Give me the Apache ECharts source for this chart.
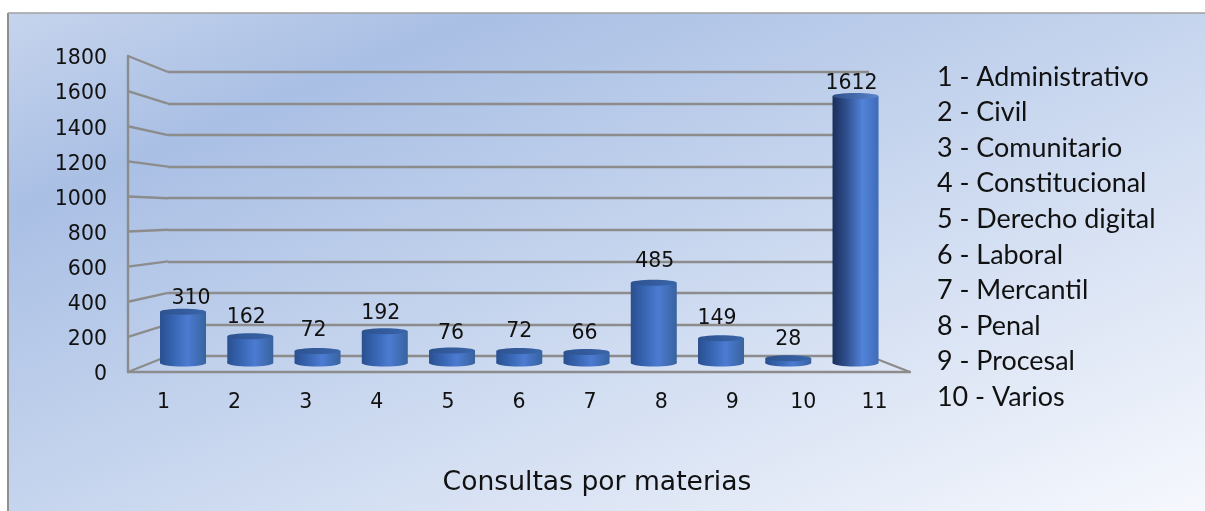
<!DOCTYPE html>
<html><head><meta charset="utf-8">
<style>html,body{margin:0;padding:0;background:#fff}#c{width:1205px;height:511px}</style>
<script src="https://cdn.jsdelivr.net/npm/echarts@6/dist/echarts.min.js"></script>
</head><body><div id="c"></div>
<script>
const categories = ['1','2','3','4','5','6','7','8','9','10','11'];
const values = [310,162,72,192,76,72,66,485,149,28,1612];
const legendItems = ['1 - Administrativo','2 - Civil','3 - Comunitario','4 - Constitucional','5 - Derecho digital','6 - Laboral','7 - Mercantil','8 - Penal','9 - Procesal','10 - Varios'];
const chartTitle = 'Consultas por materias';
const yMax = 1800, yStep = 200;
const tickValues = [0,200,400,600,800,1000,1200,1400,1600,1800];

const WALL = '#8c8c8c';
const WALL_W = 2.4;
const labelFont = '20.5px "DejaVu Sans"';
const sideFont = 'Lato';
// hand placement of the data labels relative to each cylinder's top centre
const labelDx = [8,-4,-4,-4,-1,0,-2,1,-4,0,-4];
const labelDy = [-13,-19,-20,-18,-17,-19,-18,-21,-20,-19,-12];
const chart = echarts.init(document.getElementById('c'), null, {renderer:'canvas'});

const grad = (stops)=>new echarts.graphic.LinearGradient(0,0,1,0,stops);
const bodyFill = grad([{offset:0,color:'#2a4f90'},{offset:0.25,color:'#3562ad'},{offset:0.6,color:'#4c7bd2'},{offset:1,color:'#38639f'}]);
const tallFill = grad([{offset:0,color:'#1b2f5a'},{offset:0.3,color:'#2e4f8e'},{offset:0.65,color:'#5283d8'},{offset:1,color:'#3f6cb8'}]);
const topFill = grad([{offset:0,color:'#2d528f'},{offset:1,color:'#3a65aa'}]);
const tallTop = grad([{offset:0,color:'#2f4f8a'},{offset:1,color:'#5a85cf'}]);

function renderCylinder(params, api){
  const i = api.value(0), v = api.value(1);
  const top = api.coord([i,v]), base = api.coord([i,0]);
  const w = api.size([1,0])[0]*0.684, rx = w/2, ry = 3;
  const x = top[0]-rx;
  const tall = i===values.length-1;
  const fill = tall ? tallFill : bodyFill;
  return {type:'group',children:[
    {type:'ellipse',shape:{cx:top[0],cy:base[1],rx,ry:3.5},style:{fill}},
    {type:'rect',shape:{x,y:top[1],width:w,height:base[1]-top[1]},style:{fill}},
    {type:'ellipse',shape:{cx:top[0],cy:top[1],rx,ry},style:{fill:tall?tallTop:topFill}},
    {type:'text',style:{x:top[0]+labelDx[i],y:top[1]+labelDy[i],text:String(v),font:labelFont,fill:'#111',align:'center',verticalAlign:'middle'}}
  ]};
}

chart.setOption({
  animation:false,
  backgroundColor:'#fff',
  graphic:[],
  grid:[
    {left:128,top:56,width:782,height:316},
    {left:168,top:72,width:701,height:284},
    {left:149.4,top:65,width:739.75,height:298},
    {left:128,top:59,width:782,height:316}
  ],
  xAxis:[
    {gridIndex:0,type:'category',data:categories,z:3,
     axisLine:{show:true,onZero:false,lineStyle:{color:WALL,width:WALL_W}},axisTick:{show:false},
     axisLabel:{fontFamily:'DejaVu Sans',fontSize:20.5,color:'#111',margin:20}},
    {gridIndex:1,type:'category',data:categories,show:false},
    {gridIndex:2,type:'category',data:categories,show:false},
    {gridIndex:3,type:'category',data:categories,show:false}
  ],
  yAxis:[
    {gridIndex:0,type:'value',min:0,max:yMax,interval:yStep,
     axisLine:{show:true,lineStyle:{color:WALL,width:WALL_W}},axisTick:{show:false},splitLine:{show:false},
     axisLabel:{show:false}},
    {gridIndex:1,type:'value',min:0,max:yMax,interval:yStep,
     axisLine:{show:false},axisTick:{show:false},axisLabel:{show:false},
     splitLine:{show:true,lineStyle:{color:WALL,width:WALL_W}}},
    {gridIndex:2,type:'value',min:0,max:yMax,show:false,splitLine:{show:false}},
    {gridIndex:3,type:'value',min:0,max:yMax,interval:yStep,
     axisLine:{show:false},axisTick:{show:false},splitLine:{show:false},
     axisLabel:{fontFamily:'DejaVu Sans',fontSize:20.5,color:'#111',margin:21,formatter:v=>String(v)}}
  ],
  series:[{
    type:'custom',xAxisIndex:2,yAxisIndex:2,z:5,clip:false,
    encode:{x:0,y:1},
    data:values.map((v,i)=>[i,v]),
    renderItem:renderCylinder
  }]
});

const bgFill = new echarts.graphic.LinearGradient(8,13,361,862,[
  {offset:0,color:'#c6d4ed'},{offset:0.2,color:'#a9bfe4'},{offset:0.5,color:'#c6d5ee'},{offset:1,color:'#f6f8fd'}],true);
const gfx = [
  {type:'rect',z:-10,silent:true,shape:{x:8,y:13,width:1197,height:498},style:{fill:bgFill}},
  {type:'line',z:-9,silent:true,shape:{x1:8,y1:13,x2:8,y2:511},style:{stroke:'#909090',lineWidth:2}},
  {type:'line',z:-9,silent:true,shape:{x1:8,y1:13,x2:1205,y2:13},style:{stroke:'#a0a0a0',lineWidth:1.5}}
];
tickValues.forEach(v=>{
  const f = chart.convertToPixel({xAxisIndex:0,yAxisIndex:0},[0,v]);
  const b = chart.convertToPixel({xAxisIndex:1,yAxisIndex:1},[0,v]);
  gfx.push({type:'line',z:-1,silent:true,shape:{x1:128,y1:f[1],x2:168,y2:b[1]},style:{stroke:WALL,lineWidth:WALL_W}});
});
const f0 = chart.convertToPixel({xAxisIndex:0,yAxisIndex:0},[10,0]);
const b0 = chart.convertToPixel({xAxisIndex:1,yAxisIndex:1},[10,0]);
gfx.push({type:'line',z:-1,silent:true,shape:{x1:869,y1:b0[1],x2:910,y2:f0[1]},style:{stroke:WALL,lineWidth:WALL_W}});
legendItems.forEach((t,i)=>{
  gfx.push({type:'text',z:10,style:{x:937,y:77+i*35.6,text:t,font:'26.9px '+sideFont,fill:'#111',verticalAlign:'middle'}});
});
gfx.push({type:'text',z:10,style:{x:597,y:483,text:chartTitle,font:'26.6px "DejaVu Sans"',fill:'#111',align:'center',verticalAlign:'middle'}});
chart.setOption({graphic:gfx});
</script></body></html>
